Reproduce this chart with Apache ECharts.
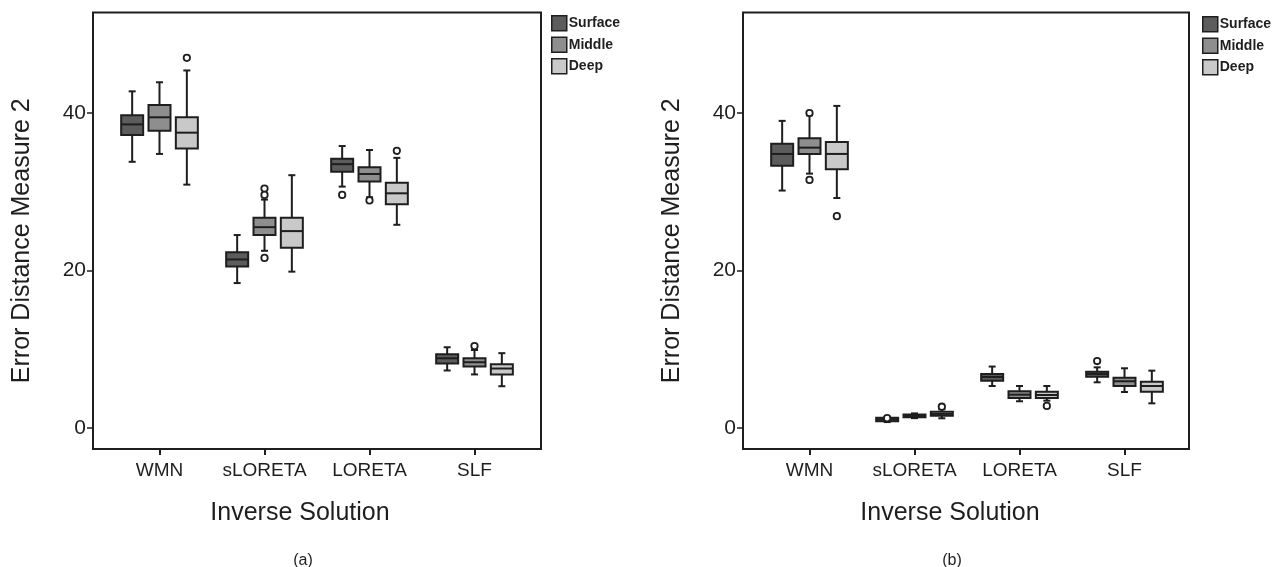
<!DOCTYPE html>
<html>
<head>
<meta charset="utf-8">
<script src="https://cdn.jsdelivr.net/npm/echarts@6/dist/echarts.min.js"></script>
<style>html,body{margin:0;padding:0;background:#fff}#c{width:1274px;height:567px}</style>
</head>
<body>
<div id="c"></div>
<script>
// ---- data ----
const categories = ['WMN', 'sLORETA', 'LORETA', 'SLF'];
const groups = ['Surface', 'Middle', 'Deep'];
const yTicks = [0, 20, 40];
// box stats: [min, Q1, median, Q3, max] per category
const aSurface = [[33.8, 37.2, 38.55, 39.7, 42.75], [18.4, 20.5, 21.4, 22.3, 24.5], [30.65, 32.55, 33.5, 34.2, 35.8], [7.3, 8.2, 8.85, 9.35, 10.25]];
const aMiddle  = [[34.8, 37.75, 39.45, 41.0, 43.9], [22.5, 24.5, 25.5, 26.7, 29.0], [29.3, 31.3, 32.25, 33.1, 35.3], [6.8, 7.8, 8.35, 8.85, 9.9]];
const aDeep    = [[30.9, 35.5, 37.5, 39.45, 45.4], [19.85, 22.9, 25.0, 26.7, 32.1], [25.8, 28.4, 29.8, 31.15, 34.3], [5.3, 6.8, 7.55, 8.1, 9.5]];
// outliers: [categoryIndex, value]
const aSurfaceOut = [[2, 29.6]];
const aMiddleOut  = [[1, 30.4], [1, 29.6], [1, 21.6], [2, 28.9], [3, 10.4]];
const aDeepOut    = [[0, 47.0], [2, 35.2]];

const bSurface = [[30.15, 33.3, 34.8, 36.1, 39.0], [0.75, 0.85, 1.1, 1.3, 1.4], [5.33, 6.0, 6.48, 6.86, 7.8], [5.8, 6.5, 6.86, 7.15, 7.7]];
const bMiddle  = [[32.3, 34.8, 35.6, 36.8, 39.7], [1.25, 1.35, 1.52, 1.7, 1.85], [3.39, 3.81, 4.23, 4.66, 5.33], [4.57, 5.33, 5.93, 6.39, 7.58]];
const bDeep    = [[29.2, 32.85, 34.8, 36.3, 40.9], [1.23, 1.56, 1.78, 2.07, 2.37], [3.47, 3.81, 4.19, 4.6, 5.33], [3.13, 4.61, 5.33, 5.88, 7.28]];
const bSurfaceOut = [[1, 1.25], [3, 8.5]];
const bMiddleOut  = [[0, 40.0], [0, 31.5]];
const bDeepOut    = [[0, 26.9], [1, 2.7], [2, 2.8]];

// ---- styling ----
const FONT = '"Liberation Sans", Arial, sans-serif';
const INK = '#1e1e1e';
const fills = ['#5c5c5c', '#8e8e8e', '#c9c9c9'];
const BOX_W = 22, CAP_W = 7;

function offsetFor(gi, api) {
  const bw = api.size([1, 0])[0];
  const step = (bw * 0.8 - 2) / groups.length;
  return (gi - 1) * step;
}

function boxRenderer(gi) {
  return function (params, api) {
    const cat = api.value(0);
    const cx = api.coord([cat, 0])[0] + offsetFor(gi, api);
    const y = [1, 2, 3, 4, 5].map(d => api.coord([cat, api.value(d)])[1]);
    const ls = { stroke: INK, lineWidth: 2 };
    return {
      type: 'group',
      children: [
        { type: 'line', shape: { x1: cx, y1: y[4], x2: cx, y2: y[3] }, style: ls },
        { type: 'line', shape: { x1: cx, y1: y[1], x2: cx, y2: y[0] }, style: ls },
        { type: 'line', shape: { x1: cx - CAP_W / 2, y1: y[4], x2: cx + CAP_W / 2, y2: y[4] }, style: ls },
        { type: 'line', shape: { x1: cx - CAP_W / 2, y1: y[0], x2: cx + CAP_W / 2, y2: y[0] }, style: ls },
        { type: 'rect', shape: { x: cx - BOX_W / 2, y: y[3], width: BOX_W, height: y[1] - y[3] },
          style: { fill: fills[gi], stroke: INK, lineWidth: 2 } },
        { type: 'line', shape: { x1: cx - BOX_W / 2, y1: y[2], x2: cx + BOX_W / 2, y2: y[2] }, style: { stroke: INK, lineWidth: 2 } }
      ]
    };
  };
}

function outRenderer(gi) {
  return function (params, api) {
    const cat = api.value(0);
    const p = api.coord([cat, api.value(1)]);
    return {
      type: 'circle',
      shape: { cx: p[0] + offsetFor(gi, api), cy: p[1], r: 3.2 },
      style: { fill: '#fff', stroke: INK, lineWidth: 1.8 }
    };
  };
}

function boxData(arr) { return arr.map((s, i) => [i].concat(s)); }

const panels = [
  { box: [aSurface, aMiddle, aDeep], out: [aSurfaceOut, aMiddleOut, aDeepOut] },
  { box: [bSurface, bMiddle, bDeep], out: [bSurfaceOut, bMiddleOut, bDeepOut] }
];

const series = [];
panels.forEach((p, pi) => {
  groups.forEach((g, gi) => {
    series.push({
      name: g, type: 'custom', xAxisIndex: pi, yAxisIndex: pi,
      itemStyle: { color: fills[gi], borderColor: INK, borderWidth: 1.5 },
      encode: { x: 0, y: [1, 2, 3, 4, 5] },
      renderItem: boxRenderer(gi),
      data: boxData(p.box[gi])
    });
    series.push({
      name: g + ' outliers', type: 'custom', xAxisIndex: pi, yAxisIndex: pi,
      encode: { x: 0, y: 1 },
      renderItem: outRenderer(gi),
      data: p.out[gi]
    });
  });
});

const gridDefs = [{ left: 107, top: 12.5, width: 420, height: 436.5 }, { left: 757, top: 12.5, width: 420, height: 436.5 }];

const xAxes = gridDefs.map((g, i) => ({
  type: 'category', gridIndex: i, data: categories,
  axisLine: { show: false, onZero: false },
  axisTick: { show: true, alignWithLabel: true, interval: 0, length: 6, lineStyle: { color: INK, width: 2 } },
  axisLabel: { fontSize: 19, color: INK, fontFamily: FONT, margin: 12, interval: 0 },
  name: 'Inverse Solution', nameLocation: 'middle', nameGap: 52,
  nameTextStyle: { fontSize: 25, color: INK, fontFamily: FONT, padding: [0, 34, 0, 0] }
}));

const yAxes = gridDefs.map((g, i) => ({
  type: 'value', gridIndex: i, min: -2.67, max: 52.76, offset: 14,
  axisLine: { show: false, onZero: false },
  splitLine: { show: false },
  axisTick: { show: true, length: 6, customValues: yTicks, lineStyle: { color: INK, width: 1.5 } },
  axisLabel: { fontSize: 21, color: INK, fontFamily: FONT, margin: 7, customValues: yTicks },
  name: 'Error Distance Measure 2', nameLocation: 'middle', nameGap: 58,
  nameTextStyle: { fontSize: 25, color: INK, fontFamily: FONT, padding: [0, 20, 0, 0] }
}));

const legendBase = {
  orient: 'vertical', icon: 'rect', itemWidth: 15, itemHeight: 15, itemGap: 5, padding: 0,
  selectedMode: false, data: groups,
  itemStyle: { borderColor: INK, borderWidth: 1.5 },
  textStyle: { fontSize: 14, fontWeight: 'bold', color: INK, fontFamily: FONT, padding: [0, 0, 0, -3] }
};

const option = {
  animation: false,
  backgroundColor: '#fff',
  grid: gridDefs,
  xAxis: xAxes,
  yAxis: yAxes,
  legend: [
    Object.assign({}, legendBase, { left: 551, top: 15 }),
    Object.assign({}, legendBase, { left: 1202, top: 16 })
  ],
  title: [
    { text: '(a)', left: 298, top: 548, textAlign: 'center', textStyle: { fontSize: 16, fontWeight: 'normal', color: INK, fontFamily: FONT } },
    { text: '(b)', left: 947, top: 548, textAlign: 'center', textStyle: { fontSize: 16, fontWeight: 'normal', color: INK, fontFamily: FONT } }
  ],
  graphic: [
    { type: 'rect', shape: { x: 93, y: 12.5, width: 448, height: 436.5 }, style: { fill: 'none', stroke: INK, lineWidth: 2 }, silent: true, z: 10 },
    { type: 'rect', shape: { x: 743, y: 12.5, width: 446, height: 436.5 }, style: { fill: 'none', stroke: INK, lineWidth: 2 }, silent: true, z: 10 }
  ],
  series: series
};

const chart = echarts.init(document.getElementById('c'), null, { renderer: 'canvas' });
chart.setOption(option);
</script>
</body>
</html>
